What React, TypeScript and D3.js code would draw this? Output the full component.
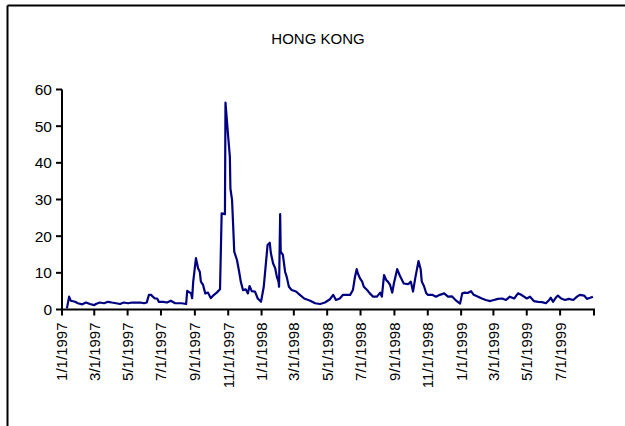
import React from "react";
import * as d3 from "d3";

const title = "HONG KONG";

const dates: string[] = [
  "1997-01-10","1997-01-14","1997-01-17","1997-01-25","1997-01-30","1997-02-07","1997-02-14","1997-02-21",
  "1997-03-01","1997-03-04","1997-03-11","1997-03-19","1997-03-26","1997-04-02","1997-04-10","1997-04-17",
  "1997-04-24","1997-05-02","1997-05-09","1997-05-16","1997-05-24","1997-05-31","1997-06-05","1997-06-09",
  "1997-06-13","1997-06-16","1997-06-20","1997-06-24","1997-06-27","1997-07-05","1997-07-12","1997-07-19",
  "1997-07-27","1997-08-01","1997-08-08","1997-08-16","1997-08-18","1997-08-25","1997-08-27","1997-08-29",
  "1997-09-03","1997-09-07","1997-09-10","1997-09-12","1997-09-16","1997-09-20","1997-09-25","1997-09-30",
  "1997-10-06","1997-10-11","1997-10-17","1997-10-20","1997-10-26","1997-10-27","1997-11-01","1997-11-04",
  "1997-11-05","1997-11-08","1997-11-10","1997-11-12","1997-11-17","1997-11-21","1997-11-24","1997-11-28",
  "1997-12-03","1997-12-07","1997-12-10","1997-12-14","1997-12-20","1997-12-25","1997-12-31",
  "1998-01-05","1998-01-12","1998-01-16","1998-01-18","1998-01-22","1998-01-26","1998-01-29","1998-02-01",
  "1998-02-02","1998-02-04","1998-02-05","1998-02-09","1998-02-13","1998-02-16","1998-02-20","1998-02-25",
  "1998-03-05","1998-03-12","1998-03-20","1998-03-31","1998-04-09","1998-04-18","1998-04-27","1998-05-06",
  "1998-05-12","1998-05-17","1998-05-24","1998-05-30","1998-06-04","1998-06-12","1998-06-17","1998-06-21",
  "1998-06-24","1998-06-26","1998-06-30","1998-07-04","1998-07-07","1998-07-13","1998-07-18","1998-07-24",
  "1998-07-31","1998-08-06","1998-08-09","1998-08-13","1998-08-17","1998-08-20","1998-08-24","1998-08-28",
  "1998-08-31","1998-09-06","1998-09-11","1998-09-18","1998-09-26","1998-10-01","1998-10-05","1998-10-09",
  "1998-10-15","1998-10-19","1998-10-21","1998-10-25","1998-10-29","1998-11-01","1998-11-09","1998-11-16",
  "1998-11-23","1998-12-01","1998-12-08","1998-12-15","1998-12-23","1998-12-30",
  "1999-01-03","1999-01-08","1999-01-13","1999-01-19","1999-01-24","1999-02-01","1999-02-08","1999-02-15",
  "1999-02-23","1999-03-02","1999-03-09","1999-03-17","1999-03-24","1999-03-31","1999-04-08","1999-04-15",
  "1999-04-20","1999-04-26","1999-05-01","1999-05-07","1999-05-14","1999-05-22","1999-05-29","1999-06-05",
  "1999-06-11","1999-06-14","1999-06-18","1999-06-23","1999-06-27","1999-07-03","1999-07-10","1999-07-17",
  "1999-07-25","1999-08-01","1999-08-06","1999-08-14","1999-08-19","1999-08-25","1999-08-30",
];

const values: number[] = [
  0.3,3.5,2.4,2.1,1.7,1.4,1.9,1.5,
  1.2,1.5,1.9,1.7,2.1,1.9,1.7,1.5,
  1.9,1.7,1.9,1.9,1.9,1.7,1.9,4.0,
  4.0,3.5,3.0,3.0,2.1,2.1,1.9,2.4,
  1.7,1.7,1.7,1.5,5.1,4.4,3.1,7.6,
  14.0,11.2,10.3,7.6,6.7,4.4,4.6,3.1,
  4.0,4.6,5.5,26.2,26.0,56.4,47.0,41.7,
  33.0,29.9,23.0,15.8,13.5,10.3,7.6,5.3,
  5.5,4.4,6.4,5.0,4.9,3.0,2.1,
  6.2,17.6,18.2,15.4,12.6,11.2,8.9,7.6,
  6.2,26.0,15.8,14.9,10.3,8.9,6.2,5.3,
  4.9,4.0,3.0,2.4,1.7,1.5,1.9,2.8,
  4.0,2.6,3.0,4.0,4.0,4.0,5.3,9.0,
  11.0,9.9,8.5,7.6,6.2,5.3,4.4,3.5,
  3.5,4.6,3.5,9.4,8.0,7.6,6.7,4.6,
  7.1,11.0,9.2,7.1,6.9,7.6,4.9,8.5,
  13.2,11.0,7.6,6.4,4.5,4.0,4.0,3.5,
  4.0,4.4,3.5,3.6,2.4,1.6,
  4.4,4.6,4.5,5.0,4.0,3.5,3.0,2.6,
  2.3,2.6,2.9,3.0,2.6,3.5,3.0,4.4,
  4.1,3.5,3.0,3.5,2.3,2.1,2.0,1.7,
  2.6,3.2,2.1,3.2,3.8,3.0,2.6,2.9,
  2.6,3.5,4.0,3.8,2.9,3.2,3.5,
];

const yTicks: number[] = [0, 10, 20, 30, 40, 50, 60];
const xTickDates: string[] = [
  "1997-01-01","1997-03-01","1997-05-01","1997-07-01","1997-09-01","1997-11-01",
  "1998-01-01","1998-03-01","1998-05-01","1998-07-01","1998-09-01","1998-11-01",
  "1999-01-01","1999-03-01","1999-05-01","1999-07-01","1999-09-01",
];
const xTickLabels: string[] = [
  "1/1/1997","3/1/1997","5/1/1997","7/1/1997","9/1/1997","11/1/1997",
  "1/1/1998","3/1/1998","5/1/1998","7/1/1998","9/1/1998","11/1/1998",
  "1/1/1999","3/1/1999","5/1/1999","7/1/1999","",
];

const parse = d3.utcParse("%Y-%m-%d");

export default function App() {
  const W = 625, H = 426;
  const left = 62, right = 594, top = 89.5, bottom = 309.5;
  const x = d3.scaleUtc()
    .domain([parse("1997-01-01")!, parse("1999-09-01")!])
    .range([left, right]);
  const y = d3.scaleLinear().domain([0, 60]).range([bottom, top]);
  const pts = dates.map((d, i) => [parse(d)!, values[i]] as [Date, number]);
  const line = d3.line<[Date, number]>().x(d => x(d[0])).y(d => y(d[1]));
  const font = "'Liberation Sans', Arial, sans-serif";

  return (
    <svg width={W} height={H} style={{ position: "absolute", left: 0, top: 0, background: "#fff" }}>
      <rect x={0} y={0} width={W} height={H} fill="#fff" />
      <line x1={7.5} y1={5.5} x2={W} y2={5.5} stroke="#000" strokeWidth={2} />
      <line x1={7.5} y1={5.5} x2={7.5} y2={H} stroke="#000" strokeWidth={2} />
      <text x={318} y={44} textAnchor="middle" fontFamily={font} fontSize={15} fill="#000">{title}</text>

      {yTicks.map(t => (
        <g key={"y" + t}>
          <line x1={left - 6} x2={left} y1={y(t)} y2={y(t)} stroke="#000" strokeWidth={2} />
          <text x={left - 10} y={y(t)} dy="0.36em" textAnchor="end" fontFamily={font} fontSize={15.5} fill="#000">{t}</text>
        </g>
      ))}
      {xTickDates.map((d, i) => {
        const xx = x(parse(d)!);
        return (
          <g key={"x" + d}>
            <line x1={xx} x2={xx} y1={bottom} y2={bottom + 6} stroke="#000" strokeWidth={2} />
            <text transform={`translate(${xx},${bottom + 13}) rotate(-90)`} dy="0.36em" textAnchor="end"
              fontFamily={font} fontSize={15} fill="#000">{xTickLabels[i]}</text>
          </g>
        );
      })}
      <line x1={left} x2={left} y1={top} y2={bottom + 1} stroke="#000" strokeWidth={2} />
      <line x1={left - 1} x2={right + 1} y1={bottom} y2={bottom} stroke="#000" strokeWidth={2} />
      <path d={line(pts) || ""} fill="none" stroke="#000080" strokeWidth={2.2} strokeLinejoin="round" />
    </svg>
  );
}
